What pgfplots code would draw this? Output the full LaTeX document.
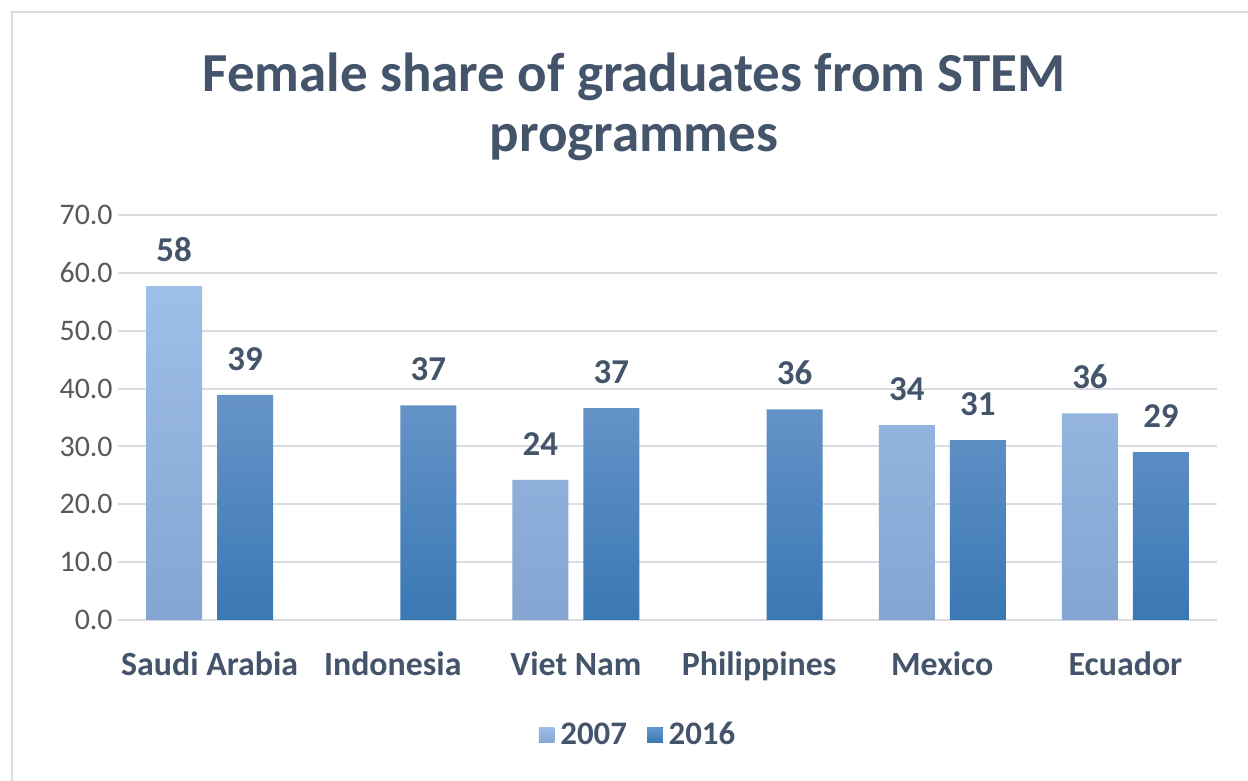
\documentclass[border=0pt]{standalone}
\usepackage{pgfplots}
\pgfplotsset{compat=1.18}
\usepackage{fontspec}
\setmainfont{Carlito}
\definecolor{titlec}{HTML}{44546A}
\definecolor{tickc}{HTML}{595959}
\definecolor{gridc}{HTML}{D9DCE2}
\definecolor{framec}{HTML}{D9DCE4}
\definecolor{aTop}{HTML}{9EBFE8}
\definecolor{aBot}{HTML}{84A4D2}
\definecolor{bTop}{HTML}{6694C8}
\definecolor{bBot}{HTML}{3A78B4}
\pgfplotsset{sqlegend/.style={legend image code/.code={\fill[##1] (0bp,-3.8bp) rectangle (7.8bp,3.8bp);}}}
\begin{document}
\begin{tikzpicture}
\useasboundingbox (0bp,0bp) rectangle (624bp,390.5bp);
\fill[white] (0bp,0bp) rectangle (624bp,390.5bp);
\draw[framec, line width=1.2bp] (6bp,-20bp) -- (6bp,384.5bp) -- (640bp,384.5bp);
\node[anchor=base, inner sep=0, font=\bfseries\fontsize{27.6}{32}\selectfont, text=titlec] at (317bp,344.5bp) {Female share of graduates from STEM};
\node[anchor=base, inner sep=0, font=\bfseries\fontsize{27.6}{32}\selectfont, text=titlec] at (317bp,314.5bp) {programmes};
\begin{axis}[
  at={(59bp,80.5bp)}, anchor=south west,
  width=549.5bp, height=202.5bp, scale only axis,
  ybar=7.5bp, bar width=28bp,
  xmin=-0.5, xmax=5.5, ymin=0, ymax=70,
  xtick={0,1,2,3,4,5},
  xticklabels={Saudi Arabia, Indonesia, Viet Nam, Philippines, Mexico, Ecuador},
  ytick={0,10,20,30,40,50,60,70},
  axis line style={draw=none},
  major tick length=0pt,
  ymajorgrids,
  major grid style={draw=gridc, line width=1bp},
  /pgf/number format/assume math mode=true,
  yticklabel={\pgfmathprintnumber[fixed,fixed zerofill,precision=1]{\tick}},
  yticklabel style={anchor=east, inner sep=0pt, xshift=-2.5bp, font=\fontsize{15}{18}\selectfont, text=tickc},
  xticklabel style={anchor=base, inner sep=0pt, yshift=-27.5bp, font=\bfseries\fontsize{17}{20}\selectfont, text=titlec},
  nodes near coords={\pgfmathprintnumber[fixed,precision=0]{\pgfplotspointmeta}},
  nodes near coords style={anchor=south, inner sep=0pt, yshift=12bp, font=\bfseries\fontsize{17.5}{21}\selectfont, text=titlec},
  point meta=y,
  legend style={at={(0.475,-0.284)}, anchor=center, legend columns=2, draw=none, fill=none,
    font=\bfseries\fontsize{16.5}{19}\selectfont, text=titlec,
    nodes={inner xsep=3bp},
    /tikz/every even column/.append style={column sep=7bp}},
]
\addplot[draw=none, top color=aTop, bottom color=aBot, sqlegend] coordinates {(0,57.7) (2,24.2) (4,33.7) (5,35.7)};
\addplot[draw=none, top color=bTop, bottom color=bBot, sqlegend] coordinates {(0,38.9) (1,37.1) (2,36.6) (3,36.4) (4,31.1) (5,29.0)};
\legend{2007,2016}
\end{axis}
\end{tikzpicture}
\end{document}
